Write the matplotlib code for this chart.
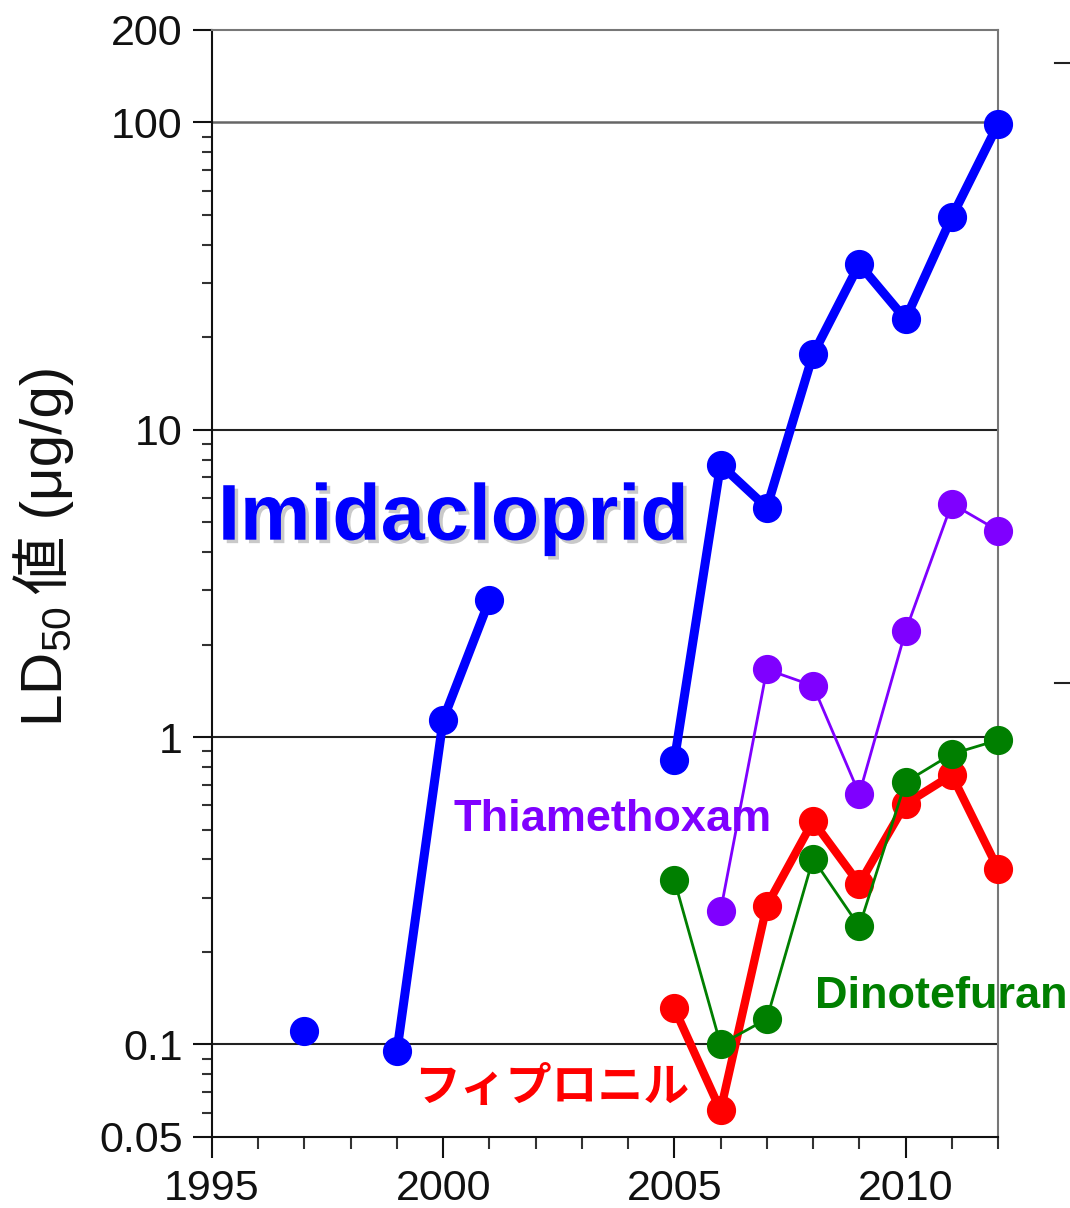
import matplotlib
matplotlib.use("Agg")
from matplotlib import pyplot as plt, patheffects
from matplotlib.lines import Line2D
from matplotlib.ticker import FixedLocator, NullFormatter
import numpy as np

plt.rcParams['font.family'] = ['Liberation Sans', 'DejaVu Sans', 'Noto Sans CJK JP']
plt.rcParams['mathtext.default'] = 'regular'

nan = np.nan

# LD50 values (ug/g)
years_imida = list(range(1997, 2013))
imidacloprid = [0.111, nan, 0.095, 1.14, 2.79, nan, nan, nan,
                0.84, 7.7, 5.58, 17.6, 34.6, 22.9, 49.2, 98.6]

years_new = list(range(2005, 2013))
thiamethoxam = [nan, 0.272, 1.66, 1.47, 0.653, 2.21, 5.75, 4.70]
dinotefuran = [0.343, 0.100, 0.121, 0.402, 0.242, 0.714, 0.881, 0.978]
fipronil = [0.131, 0.061, 0.283, 0.533, 0.333, 0.606, 0.753, 0.373]

y_ticks = [0.05, 0.1, 1, 10, 100, 200]
y_tick_labels = ['0.05', '0.1', '1', '10', '100', '200']
x_ticks = [1995, 2000, 2005, 2010]
x_minor = list(range(1995, 2013))

BLUE = '#0000ff'
PURPLE = '#7f00ff'
GREEN = '#007f00'
RED = '#ff0000'

W, H = 1070, 1208
fig = plt.figure(figsize=(W / 100, H / 100), dpi=100)
ax = fig.add_axes([0.1981, 0.0588, 0.7346, 0.9164])

ax.set_yscale('log')
ax.set_xlim(1995, 2012)
ax.set_ylim(0.05, 200)

# lines: red and green first, then purple, blue on top
ax.plot(years_new, fipronil, '-o', color=RED, lw=6, ms=20, clip_on=False, zorder=3)
ax.plot(years_new, dinotefuran, '-o', color=GREEN, lw=2, ms=20, clip_on=False, zorder=4)
ax.plot(years_new, thiamethoxam, '-o', color=PURPLE, lw=2, ms=20, clip_on=False, zorder=4)
ax.plot(years_imida, imidacloprid, '-o', color=BLUE, lw=6.5, ms=20, clip_on=False, zorder=5)

# ticks
ax.yaxis.set_major_locator(FixedLocator(y_ticks))
ax.set_yticklabels(y_tick_labels)
minor_y = [m * d for d in [0.01, 0.1, 1, 10] for m in range(2, 10)
           if 0.05 < m * d < 100]
ax.yaxis.set_minor_locator(FixedLocator(minor_y))
ax.yaxis.set_minor_formatter(NullFormatter())

ax.xaxis.set_major_locator(FixedLocator(x_ticks))
ax.xaxis.set_minor_locator(FixedLocator(x_minor))
ax.xaxis.set_minor_formatter(NullFormatter())

ax.tick_params(axis='y', which='major', direction='out', length=14, width=1.5,
               labelsize=31, pad=7, colors='#111111')
ax.tick_params(axis='y', which='minor', direction='out', length=7, width=1.5,
               colors='#333333')
ax.tick_params(axis='x', which='major', direction='out', length=15, width=1.5,
               labelsize=31, pad=8, colors='#111111')
ax.tick_params(axis='x', which='minor', direction='out', length=8.5, width=1.5,
               colors='#333333')

# horizontal grid at decades
for g in [0.1, 1, 10]:
    ax.axhline(g, color='#222222', lw=1.5, zorder=1)
ax.axhline(100, color='#666666', lw=1.8, zorder=1)

ax.spines['left'].set_color('#111111')
ax.spines['bottom'].set_color('#111111')
ax.spines['top'].set_color('#777777')
ax.spines['right'].set_color('#777777')
for s in ax.spines.values():
    s.set_linewidth(1.5)

# series labels
ax.text(1995.13, 4.39, 'Imidacloprid', color=BLUE, fontsize=57, fontweight='bold',
        ha='left', va='baseline', zorder=6,
        path_effects=[patheffects.withSimplePatchShadow(offset=(2.5, -2.5),
                                                        shadow_rgbFace='#666666',
                                                        alpha=0.35)])
ax.text(2000.23, 0.495, 'Thiamethoxam', color=PURPLE, fontsize=32.5, fontweight='bold',
        ha='left', va='baseline', zorder=6)
ax.text(2008.04, 0.131, 'Dinotefuran', color=GREEN, fontsize=32.5, fontweight='bold',
        ha='left', va='baseline', zorder=6, clip_on=False)
ax.text(2002.35, 0.072, 'フィプロニル', color=RED, fontsize=33,
        family=['Noto Sans CJK JP', 'DejaVu Sans'], fontweight='bold',
        ha='center', va='center', zorder=6)

# y label in two pieces, reading upwards along a shared baseline
fig.text(62 / W, 1 - 727 / H, 'LD$_{50}$', rotation=90, rotation_mode='anchor',
         fontsize=42, ha='left', va='baseline', color='#111111')
fig.text(62 / W, 1 - 594 / H, '値 (μg/g)', rotation=90, rotation_mode='anchor',
         fontsize=42, ha='left', va='baseline', color='#111111')

# stray tick marks at the right edge of the picture
for yy in [63, 683]:
    yf = 1 - yy / H
    fig.add_artist(Line2D([1055 / W, 1.0], [yf, yf], color='#222222', lw=1.5))

fig.savefig('out.png', dpi=100)
